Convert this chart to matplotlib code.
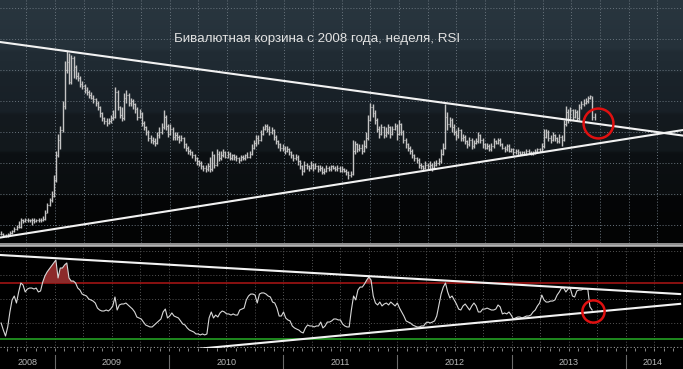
import numpy as np
import matplotlib
matplotlib.use('Agg')
import matplotlib.pyplot as plt
import matplotlib.transforms as mtransforms
from matplotlib.patches import Rectangle

plt.rcParams['font.family'] = ['Liberation Sans', 'DejaVu Sans']

title = 'Бивалютная корзина с 2008 года, неделя, RSI'
start_year = 2008.53   # first weekly bar, mid-July 2008
years = [2008, 2009, 2010, 2011, 2012, 2013, 2014]

# weekly closes of the basket
closes = [
    29.45, 29.35, 29.30, 29.40, 29.50, 29.60, 29.75, 29.90, 29.85, 30.30,
    30.25, 30.35, 30.30, 30.30, 30.35, 30.25, 30.30, 30.35, 30.30, 30.40,
    30.80, 31.30, 31.60, 31.90, 32.90, 34.50, 35.50, 36.10, 37.70, 40.00,
    40.50, 39.20, 40.80, 40.20, 39.60, 39.50, 39.10, 39.00, 38.70, 38.60,
    38.40, 38.20, 38.10, 37.90, 37.60, 37.20, 36.90, 36.70, 36.60, 36.70,
    36.90, 37.00, 38.60, 37.60, 37.10, 36.90, 38.20, 38.40, 37.90, 38.00,
    37.80, 37.50, 37.00, 37.20, 36.60, 36.30, 36.00, 35.60, 35.50, 35.40,
    35.30, 35.80, 36.00, 36.30, 37.00, 36.40, 35.90, 36.20, 35.70, 35.80,
    35.70, 35.50, 35.60, 35.20, 35.00, 34.80, 34.70, 34.50, 34.30, 34.10,
    34.00, 33.80, 33.70, 33.60, 33.80, 33.60, 34.50, 33.90, 34.60, 34.30,
    34.50, 34.70, 34.40, 34.60, 34.30, 34.50, 34.40, 34.30, 34.20, 34.40,
    34.30, 34.50, 34.40, 34.60, 35.00, 35.30, 35.60, 35.50, 35.90, 36.20,
    36.40, 36.20, 36.00, 36.10, 35.70, 35.40, 35.20, 35.00, 35.00, 34.80,
    34.90, 34.70, 34.50, 34.30, 34.40, 34.10, 33.80, 33.50, 33.90, 33.80,
    33.70, 33.90, 33.70, 33.80, 33.60, 33.70, 33.40, 33.50, 33.70, 33.60,
    33.80, 33.70, 33.60, 33.70, 33.50, 33.60, 33.50, 33.40, 33.20, 33.30,
    34.80, 35.20, 34.90, 35.00, 34.80, 35.10, 35.60, 36.80, 37.60, 37.20,
    36.80, 36.20, 35.90, 36.30, 35.80, 36.00, 36.30, 35.90, 36.20, 36.40,
    35.90, 36.50, 36.00, 35.50, 35.20, 35.00, 34.80, 34.50, 34.30, 34.20,
    33.90, 33.80, 33.70, 33.90, 33.80, 33.90, 33.70, 33.90, 34.00, 34.10,
    34.60, 35.00, 37.00, 36.50, 36.80, 36.30, 36.00, 35.80, 36.10, 35.60,
    35.70, 35.40, 35.20, 35.50, 35.10, 35.30, 35.40, 35.80, 35.50, 35.20,
    35.00, 35.10, 34.90, 35.10, 35.40, 35.30, 35.50, 35.20, 35.00, 34.90,
    35.10, 34.80, 34.90, 34.70, 34.80, 34.70, 34.60, 34.70, 34.60, 34.80,
    34.70, 34.60, 34.70, 34.80, 34.90, 34.80, 35.10, 35.70, 36.00, 35.60,
    35.50, 35.80, 35.60, 35.40, 35.70, 35.50, 36.50, 37.30, 36.80, 37.40,
    37.00, 37.30, 36.90, 37.60, 37.80, 37.90, 38.00, 38.20, 38.30, 37.00,
    36.90,
]

highs = [
    29.60, 29.50, 29.45, 29.50, 29.60, 29.70, 29.85, 30.00, 30.25, 30.45,
    30.40, 30.45, 30.45, 30.40, 30.45, 30.45, 30.40, 30.45, 30.45, 30.60,
    30.95, 31.40, 31.75, 32.20, 33.20, 34.80, 35.90, 36.40, 38.00, 40.60,
    41.20, 41.10, 41.00, 40.90, 40.30, 39.90, 39.60, 39.30, 39.10, 38.90,
    38.70, 38.60, 38.40, 38.20, 38.00, 37.70, 37.30, 37.00, 36.90, 36.90,
    37.10, 37.40, 38.90, 38.70, 37.70, 37.60, 38.50, 38.70, 38.50, 38.20,
    38.10, 37.90, 37.60, 37.50, 37.30, 36.70, 36.40, 36.10, 35.80, 35.70,
    35.60, 36.00, 36.30, 36.60, 37.40, 37.10, 36.50, 36.50, 36.30, 36.00,
    36.00, 35.80, 35.80, 35.70, 35.30, 35.10, 34.90, 34.80, 34.60, 34.40,
    34.20, 34.10, 33.90, 33.90, 34.00, 34.40, 34.80, 34.60, 34.90, 34.80,
    34.80, 34.90, 34.80, 34.80, 34.70, 34.60, 34.60, 34.50, 34.40, 34.50,
    34.50, 34.60, 34.70, 34.80, 35.20, 35.50, 35.80, 35.80, 36.10, 36.40,
    36.50, 36.50, 36.40, 36.30, 36.20, 35.80, 35.50, 35.30, 35.20, 35.10,
    35.10, 35.00, 34.80, 34.60, 34.60, 34.50, 34.20, 33.90, 34.10, 34.00,
    33.90, 34.10, 34.00, 34.00, 33.90, 33.90, 33.80, 33.70, 33.90, 33.80,
    33.90, 33.90, 33.80, 33.90, 33.80, 33.80, 33.70, 33.60, 33.50, 33.50,
    35.50, 35.40, 35.30, 35.20, 35.20, 35.50, 36.00, 37.10, 37.90, 37.80,
    37.40, 36.90, 36.40, 36.50, 36.40, 36.30, 36.50, 36.40, 36.40, 36.60,
    36.50, 36.80, 36.60, 36.10, 35.60, 35.30, 35.10, 34.90, 34.60, 34.40,
    34.30, 34.00, 33.90, 34.10, 34.00, 34.10, 34.00, 34.10, 34.20, 34.30,
    34.90, 35.30, 37.80, 37.30, 37.00, 36.90, 36.50, 36.10, 36.30, 36.20,
    35.90, 35.80, 35.50, 35.70, 35.60, 35.50, 35.60, 36.00, 35.90, 35.60,
    35.30, 35.30, 35.20, 35.30, 35.60, 35.50, 35.60, 35.60, 35.30, 35.10,
    35.20, 35.20, 35.00, 35.00, 34.90, 34.90, 34.80, 34.80, 34.80, 34.90,
    34.90, 34.80, 34.80, 34.90, 35.00, 35.00, 35.30, 36.20, 36.20, 36.10,
    35.80, 36.00, 35.90, 35.70, 35.90, 35.80, 36.80, 37.70, 37.50, 37.60,
    37.50, 37.50, 37.40, 37.80, 38.00, 38.10, 38.20, 38.30, 38.40, 38.30,
    37.20,
]

lows = [
    29.35, 29.25, 29.20, 29.25, 29.35, 29.45, 29.55, 29.70, 29.80, 29.80,
    30.15, 30.20, 30.20, 30.20, 30.00, 30.15, 30.20, 30.20, 30.20, 30.25,
    30.35, 30.75, 31.20, 31.50, 31.80, 32.80, 34.40, 34.90, 36.00, 37.50,
    39.80, 39.10, 39.10, 39.50, 39.40, 39.30, 38.90, 38.80, 38.50, 38.40,
    38.20, 38.10, 37.90, 37.70, 37.40, 37.00, 36.70, 36.50, 36.40, 36.50,
    36.60, 36.80, 36.90, 37.40, 36.90, 36.70, 36.80, 37.90, 37.70, 37.70,
    37.50, 37.20, 36.80, 36.90, 36.40, 36.10, 35.80, 35.40, 35.30, 35.20,
    35.10, 35.20, 35.60, 35.90, 36.20, 36.10, 35.70, 35.80, 35.50, 35.50,
    35.50, 35.30, 35.40, 35.00, 34.80, 34.60, 34.50, 34.30, 34.10, 33.90,
    33.80, 33.60, 33.50, 33.40, 33.50, 33.40, 33.50, 33.70, 33.80, 34.10,
    34.20, 34.40, 34.30, 34.30, 34.20, 34.20, 34.20, 34.10, 34.00, 34.10,
    34.20, 34.20, 34.30, 34.30, 34.50, 34.90, 35.10, 35.20, 35.40, 35.80,
    36.10, 36.00, 35.80, 35.90, 35.50, 35.20, 35.00, 34.80, 34.80, 34.60,
    34.70, 34.50, 34.30, 34.10, 34.20, 33.90, 33.60, 33.20, 33.40, 33.60,
    33.50, 33.60, 33.50, 33.60, 33.40, 33.50, 33.30, 33.30, 33.40, 33.50,
    33.50, 33.60, 33.50, 33.50, 33.40, 33.40, 33.40, 33.20, 33.00, 33.10,
    33.20, 34.60, 34.70, 34.80, 34.60, 34.70, 35.00, 35.50, 36.70, 37.00,
    36.50, 36.00, 35.60, 35.80, 35.60, 35.70, 35.90, 35.60, 35.80, 36.10,
    35.50, 35.80, 35.80, 35.30, 35.00, 34.80, 34.60, 34.30, 34.10, 34.00,
    33.70, 33.60, 33.50, 33.60, 33.60, 33.60, 33.50, 33.60, 33.80, 33.90,
    34.00, 34.50, 34.90, 36.10, 36.30, 36.00, 35.80, 35.50, 35.60, 35.40,
    35.40, 35.20, 35.00, 35.10, 34.90, 35.00, 35.20, 35.30, 35.30, 35.00,
    34.90, 34.90, 34.80, 34.80, 35.00, 35.20, 35.20, 35.10, 34.90, 34.70,
    34.80, 34.70, 34.70, 34.50, 34.60, 34.50, 34.50, 34.50, 34.50, 34.50,
    34.60, 34.50, 34.50, 34.60, 34.70, 34.70, 34.70, 35.00, 35.60, 35.40,
    35.30, 35.40, 35.40, 35.30, 35.30, 35.10, 35.40, 36.40, 36.60, 36.70,
    36.80, 36.90, 36.70, 36.80, 37.50, 37.70, 37.80, 37.90, 38.10, 36.80,
    36.80,
]

# weekly RSI
rsi = [
    41.4, 36.4, 32.1, 38.6, 49.3, 57.9, 60.7, 55.7, 63.6, 70.0,
    68.6, 63.6, 65.7, 66.4, 66.4, 65.7, 66.4, 63.6, 64.3, 70.7,
    75.0, 77.9, 80.0, 82.1, 84.3, 86.4, 73.6, 80.7, 80.7, 82.9,
    84.3, 73.6, 71.4, 71.4, 70.0, 66.4, 65.0, 62.1, 61.4, 60.7,
    58.6, 57.9, 57.1, 55.7, 52.1, 50.7, 50.0, 50.0, 50.7, 50.0,
    51.4, 53.6, 60.0, 50.7, 54.3, 55.0, 55.0, 55.7, 54.3, 52.9,
    51.4, 49.3, 45.7, 45.0, 44.3, 42.1, 40.0, 39.3, 38.6, 38.6,
    40.0, 41.4, 42.9, 44.3, 49.3, 51.4, 45.0, 46.4, 48.6, 46.4,
    45.7, 45.0, 42.9, 40.7, 40.0, 37.9, 36.4, 35.7, 35.0, 33.6,
    33.6, 32.9, 33.6, 32.9, 33.6, 45.0, 49.3, 45.0, 47.1, 45.7,
    48.6, 50.0, 49.3, 47.9, 47.9, 47.1, 47.9, 47.1, 47.1, 50.7,
    51.4, 52.1, 57.9, 60.7, 62.1, 62.1, 61.4, 55.7, 62.1, 62.9,
    62.9, 62.1, 60.7, 60.0, 56.4, 55.7, 52.1, 46.4, 46.4, 49.3,
    45.0, 43.6, 42.9, 39.3, 37.9, 37.1, 36.4, 35.0, 34.3, 37.9,
    40.0, 39.3, 39.3, 38.6, 39.3, 39.3, 42.1, 37.9, 39.3, 42.1,
    42.1, 42.9, 44.3, 44.3, 43.6, 43.6, 40.7, 39.3, 38.6, 38.6,
    50.7, 60.7, 57.9, 65.0, 67.1, 67.1, 69.3, 72.1, 74.3, 72.1,
    60.7, 55.7, 54.3, 56.4, 53.6, 55.0, 55.7, 54.3, 56.4, 55.0,
    53.6, 55.7, 52.1, 49.3, 46.4, 42.9, 42.1, 41.4, 40.0, 39.3,
    38.6, 38.6, 39.3, 39.3, 41.4, 42.1, 41.4, 42.1, 42.9, 46.4,
    54.3, 62.1, 67.1, 70.0, 63.6, 59.3, 60.7, 57.9, 55.0, 51.4,
    50.7, 53.6, 55.0, 52.9, 50.7, 53.6, 55.7, 53.6, 49.3, 49.3,
    51.4, 51.4, 52.1, 51.4, 50.7, 50.7, 51.4, 54.3, 52.9, 47.9,
    48.6, 47.9, 49.3, 47.1, 44.3, 45.0, 45.7, 45.7, 45.0, 45.7,
    46.4, 46.4, 47.1, 49.3, 50.7, 53.6, 55.7, 61.4, 57.9, 56.4,
    56.4, 57.1, 57.1, 57.9, 61.4, 63.6, 66.4, 66.4, 63.6, 65.7,
    66.4, 60.7, 60.0, 64.3, 65.0, 65.0, 65.7, 65.7, 65.7, 53.0,
    50.7,
]

# hand-drawn trend lines (start / end of the visible range)
line_x = [2008.52, 2014.475]
price_upper = [41.81, 35.77]
price_lower = [29.19, 36.13]
rsi_upper = [90.0, 62.1]
rsi_lower = [9.8, 55.1]
# red circles
price_circle = (2013.734, 36.58)
rsi_circle = (2013.716, 50.0)

n = min(len(closes), len(highs), len(lows), len(rsi))
t = start_year + np.arange(n) * 7 / 365.25
c = np.array(closes[:n])
o = np.r_[c[0], c[:-1]]
hi = np.array(highs[:n])
lo = np.array(lows[:n])
r = np.array(rsi[:n])

W, H = 683, 369
fig = plt.figure(figsize=(W / 100, H / 100), dpi=100, facecolor='black')

xlim = (2008.52, 2014.475)
ax1 = fig.add_axes([0, 126 / H, 1, 243 / H])
ax2 = fig.add_axes([0, 21 / H, 1, 101 / H])
for ax in (ax1, ax2):
    ax.set_xlim(*xlim)
    for s in ax.spines.values():
        s.set_visible(False)
    ax.set_facecolor('black')
ax1.set_ylim(28.84, 44.52)
ax2.set_ylim(23.57, 95.71)

# stepped dark gradient behind the price panel
stops_y = [0.0, 0.2, 0.21, 0.29, 0.30, 0.46, 0.47, 0.62, 0.63, 0.80, 0.81, 1.0]
stops_c = ['#29363f', '#25313a', '#212c34', '#1f2a32', '#1a232a', '#182027',
           '#141a1f', '#12181c', '#0c1013', '#0a0d0f', '#050607', '#030404']
rgb = np.array([matplotlib.colors.to_rgb(col) for col in stops_c])
yy = np.linspace(0, 1, 400)
grad = np.stack([np.interp(yy, stops_y, rgb[:, k]) for k in range(3)], axis=1)
ax1.imshow(grad[:, None, :], extent=[xlim[0], xlim[1], 28.84, 44.52],
           aspect='auto', origin='upper', zorder=0)

# grids
quarters = np.arange(2008.75, 2014.5, 0.25)
for q in quarters:
    ax1.axvline(q, color='#69747d', lw=0.7, ls=(0, (1, 2)), zorder=1)
    ax2.axvline(q, color='#555555', lw=0.7, ls=(0, (1, 2)), zorder=1)
for p in np.arange(30, 45, 2):
    ax1.axhline(p, color='#69747d', lw=0.7, ls=(0, (1, 2)), zorder=1)
for g in [41.4, 58.6, 75.7, 92.9]:
    ax2.axhline(g, color='#555555', lw=0.7, ls=(0, (1, 2)), zorder=1)
ax2.axhline(24.3, color='#9a9a9a', lw=0.8, ls=(0, (1, 2)), zorder=1)

# weekly OHLC bars
dx = 0.35 * 7 / 365.25
ax1.vlines(t, lo, hi, color='#c4c4c4', lw=1.0, zorder=3)
ax1.hlines(o, t - dx, t, color='#c4c4c4', lw=0.8, zorder=3)
ax1.hlines(c, t, t + dx, color='#c4c4c4', lw=0.8, zorder=3)

ax1.plot(line_x, price_upper, color='#f2f2f2', lw=1.5, zorder=4)
ax1.plot(line_x, price_lower, color='#f2f2f2', lw=1.5, zorder=4)
ax1.plot(*price_circle, marker='o', ms=21.5, mfc='none', mec='#e01010',
         mew=1.8, zorder=5)

# RSI panel
ax2.axhline(70, color='#a01414', lw=1.2, zorder=2)
ax2.axhline(30, color='#24a024', lw=1.2, zorder=2)
ax2.fill_between(t, 70, r, where=r > 70, interpolate=True,
                 color='#8c2a2a', lw=0, zorder=2)
ax2.plot(t, r, color='#d8d8d8', lw=0.8, zorder=3)
ax2.plot(line_x, rsi_upper, color='#f2f2f2', lw=1.5, zorder=4)
ax2.plot(line_x, rsi_lower, color='#f2f2f2', lw=1.5, zorder=4)
ax2.plot(*rsi_circle, marker='o', ms=16, mfc='none', mec='#e01010',
         mew=1.8, zorder=5)

ax1.set_xticks([])
ax1.set_yticks([])
ax2.set_yticks([])
months = np.arange(2008.5 + 1 / 12, 2014.5, 1 / 12)
ax2.set_xticks(months)
ax2.set_xticklabels([])
ax2.tick_params(axis='x', length=2, width=0.6, color='#9a9a9a', direction='out', pad=0)

# gray separator between panels
fig.patches.append(Rectangle((0, 122 / H), 1, 4 / H, transform=fig.transFigure,
                             facecolor='#8e8e8e', edgecolor='none'))
fig.patches.append(Rectangle((0, 123 / H), 1, 1.5 / H, transform=fig.transFigure,
                             facecolor='#b4b4b4', edgecolor='none'))

# year axis
trans = mtransforms.blended_transform_factory(ax2.transData, ax2.transAxes)
for yr in years:
    if yr > 2008:
        ax2.plot([yr, yr], [-0.07, -0.21], transform=trans, color='#6a6a6a',
                 lw=0.8, clip_on=False)
    mid = (max(yr, xlim[0]) + min(yr + 1, xlim[1])) / 2
    ax2.text(mid, -0.14, str(yr), transform=trans, ha='center', va='center',
             fontsize=6.5, color='#b8b8b8')

fig.text(317 / W, 1 - 39 / H, title, ha='center', va='center',
         fontsize=9.6, color='#e2e2e2')

fig.savefig('out.png', dpi=100, facecolor='black')
